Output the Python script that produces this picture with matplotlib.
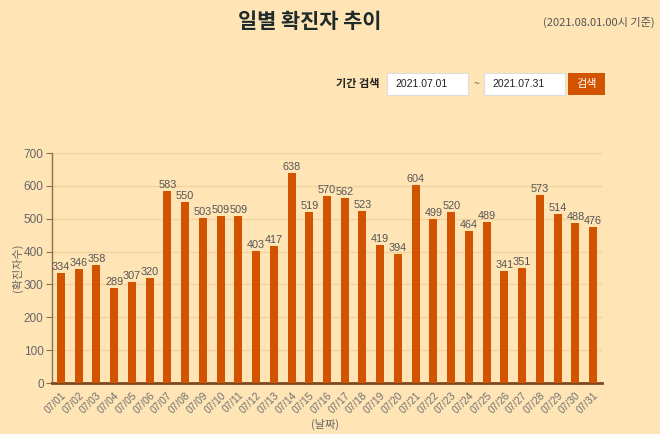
import matplotlib
matplotlib.use("Agg")
import matplotlib.pyplot as plt
from matplotlib.patches import Rectangle

plt.rcParams['font.family'] = ['Noto Sans CJK KR', 'DejaVu Sans']

dates = ["07/%02d" % d for d in range(1, 32)]
cases = [334, 346, 358, 289, 307, 320, 583, 550, 503, 509, 509, 403, 417, 638,
         519, 570, 562, 523, 419, 394, 604, 499, 520, 464, 489, 341, 351, 573,
         514, 488, 476]
yticks = [0, 100, 200, 300, 400, 500, 600, 700]

bg = "#FFE4B5"
bar_color = "#D35400"
num_font = ['Liberation Sans', 'DejaVu Sans']

fig = plt.figure(figsize=(6.6, 4.34), dpi=100, facecolor=bg)
ax = fig.add_axes([52/660, 1-383/434, 550/660, 230/434], facecolor=bg)

x = range(len(dates))
ax.bar(x, cases, width=0.45, color=bar_color, zorder=3)
for i, v in zip(x, cases):
    ax.text(i, v + 3, str(v), ha='center', va='bottom', fontsize=7.8,
            color='#555555', family=num_font, zorder=4)

ax.set_xlim(-0.5, len(dates) - 0.5)
ax.set_ylim(0, 700)
ax.set_yticks(yticks)
ax.set_yticklabels([str(t) for t in yticks], fontsize=8.5, color='#666666', family=num_font)
ax.set_xticks(list(x))
ax.set_xticklabels(dates, rotation=45, ha='right', rotation_mode='anchor',
                   fontsize=7.3, color='#707070', family=num_font)
ax.tick_params(axis='x', length=0, pad=5)
ax.tick_params(axis='y', length=4, color='#8B6F4E', pad=2)
ax.grid(axis='y', color='#F0D3A0', linewidth=1, zorder=0)
for s in ['top', 'right']:
    ax.spines[s].set_visible(False)
ax.spines['left'].set_color('#8B6F4E')
ax.spines['left'].set_linewidth(1)
ax.spines['bottom'].set_color('#7A4A1E')
ax.spines['bottom'].set_linewidth(2)

fig.text(17/660, 1-268/434, '(확진자수)', ha='center', va='center', rotation=90,
         fontsize=8, color='#666666')
fig.text(325/660, 1-424/434, '(날짜)', ha='center', va='center', fontsize=8, color='#666666')

# title and header
fig.text(310/660, 1-22/434, '일별 확진자 추이', ha='center', va='center',
         fontsize=15, fontweight='bold', color='#1f2b2b')
fig.text(655/660, 1-22/434, '(2021.08.01.00시 기준)', ha='right', va='center',
         fontsize=8, color='#555555')

# search row
fig.text(358/660, 1-84/434, '기간 검색', ha='center', va='center', fontsize=8,
         color='#222222', fontweight='bold')
for x0, txt in [(387, '2021.07.01'), (484, '2021.07.31')]:
    fig.patches.append(Rectangle((x0/660, 1-95/434), 81/660, 22/434,
                                 transform=fig.transFigure, facecolor='white',
                                 edgecolor='#DDDDDD', linewidth=0.8))
    fig.text((x0+8)/660, 1-84/434, txt, ha='left', va='center', fontsize=7.5, color='#222222',
             family=num_font)
fig.text(476/660, 1-84/434, '~', ha='center', va='center', fontsize=7.5, color='#666666')
fig.patches.append(Rectangle((568/660, 1-95/434), 37/660, 22/434,
                             transform=fig.transFigure, facecolor=bar_color,
                             edgecolor='none'))
fig.text(586.5/660, 1-84/434, '검색', ha='center', va='center', fontsize=8, color='white')

fig.savefig('out.png', dpi=100, facecolor=bg)
